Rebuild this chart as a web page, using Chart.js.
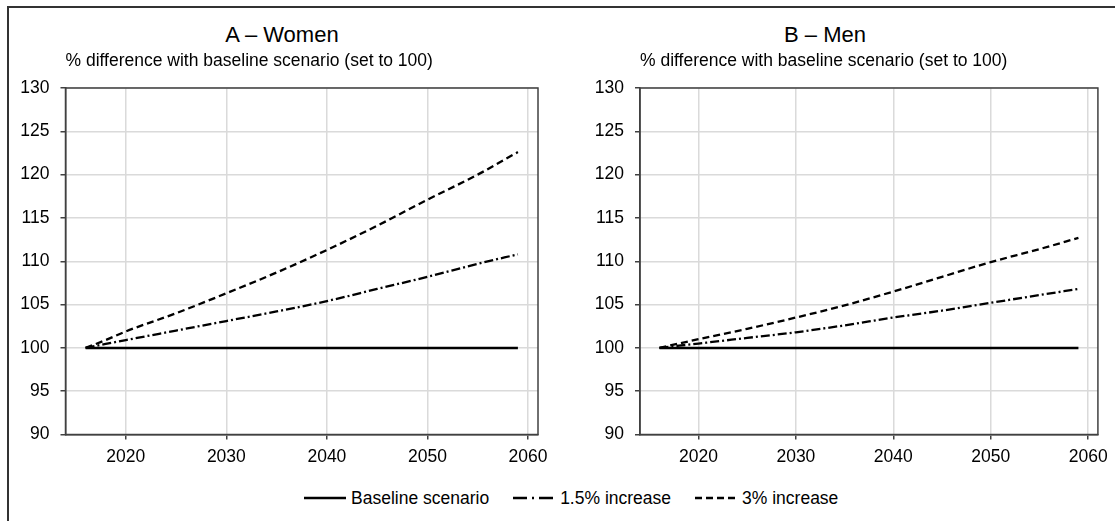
<!DOCTYPE html>
<html>
<head>
<meta charset="utf-8">
<script src="https://cdn.jsdelivr.net/npm/chart.js@4.4.1/dist/chart.umd.min.js"></script>
<style>
  html, body { margin: 0; padding: 0; background: #fff; }
  body {
    width: 1115px; height: 521px; position: relative; overflow: hidden; color: #000;
    font-family: 'Liberation Sans', Arial, sans-serif;
  }
  .frame { position: absolute; left: 7px; top: 6px; width: 1200px; height: 600px; border: 2px solid #333; }
  .panel-title {
    position: absolute; top: 24px; width: 300px; text-align: center;
    font: 22px/22px 'Liberation Sans', Arial, sans-serif;
  }
  canvas { position: absolute; top: 8px; }
  #legend {
    position: absolute; left: 304px; top: 486px; display: flex; align-items: center;
    font-size: 17.5px; line-height: 24px; white-space: nowrap;
  }
  .item { display: flex; align-items: center; margin-right: 24px; }
  .item svg { margin-right: 5px; }
</style>
</head>
<body>
<div class="frame"></div>
<div class="panel-title" style="left:132px">A – Women</div>
<div class="panel-title" style="left:675px">B – Men</div>
<canvas id="women" width="545" height="472" style="left:10px"></canvas>
<canvas id="men" width="555" height="472" style="left:560px"></canvas>
<div id="legend"></div>

<script>
// values
const years = [2016, 2018, 2020, 2025, 2030, 2035, 2040, 2045, 2050, 2055, 2059];
const xTicks = [2020, 2030, 2040, 2050, 2060];

const seriesNames = ['Baseline scenario', '1.5% increase', '3% increase'];

const womenBaseline = [100, 100, 100, 100, 100, 100, 100, 100, 100, 100, 100];
const women15 = [100, 100.45, 100.9, 102.0, 103.1, 104.2, 105.4, 106.8, 108.2, 109.7, 110.8];
const women3 = [100, 100.9, 101.9, 104.0, 106.3, 108.7, 111.3, 114.1, 117.1, 120.0, 122.6];

const menBaseline = [100, 100, 100, 100, 100, 100, 100, 100, 100, 100, 100];
const men15 = [100, 100.25, 100.5, 101.15, 101.8, 102.6, 103.5, 104.3, 105.2, 106.1, 106.8];
const men3 = [100, 100.5, 101.0, 102.2, 103.5, 104.9, 106.5, 108.2, 109.9, 111.4, 112.7];

const subtitleText = '% difference with baseline scenario (set to 100)';

// line looks, same order as seriesNames
const lineStyles = [
    { width: 2.5, dash: [], legendDash: [] },
    { width: 2.3, dash: [9, 3, 2, 3], legendDash: [14, 5, 2, 5, 14] },
    { width: 2.3, dash: [7, 4], legendDash: [7, 4] }
];

const FONT = "'Liberation Sans', Arial, sans-serif";
const AXIS_COLOR = '#404040';
const GRID_COLOR = '#dadada';

Chart.defaults.font.family = FONT;
Chart.defaults.color = '#000';

// dark box round the plot area
const plotFrame = {
    id: 'plotFrame',
    beforeDatasetsDraw(chart) {
        const { ctx, chartArea: a } = chart;
        ctx.save();
        ctx.strokeStyle = AXIS_COLOR;
        ctx.lineWidth = 1.5;
        ctx.strokeRect(a.left, a.top, a.right - a.left, a.bottom - a.top);
        ctx.restore();
    }
};

function makeChart(id, series, yWidth, rightPad) {
    const datasets = series.map((values, i) => ({
        label: seriesNames[i],
        data: years.map((y, k) => ({ x: y, y: values[k] })),
        borderColor: '#000',
        borderWidth: lineStyles[i].width,
        borderDash: lineStyles[i].dash,
        pointRadius: 0,
        cubicInterpolationMode: 'monotone',
        fill: false
    }));

    return new Chart(document.getElementById(id), {
        type: 'line',
        data: { datasets: datasets.reverse() },
        options: {
            responsive: false,
            animation: false,
            layout: { padding: { left: 0, right: rightPad, top: 0, bottom: 0 } },
            plugins: {
                legend: { display: false },
                tooltip: { enabled: false },
                title: { display: false },
                subtitle: {
                    display: true,
                    text: subtitleText,
                    fullSize: false,
                    align: 'start',
                    color: '#000',
                    font: { size: 17.5, weight: 'normal' },
                    padding: { top: 43, bottom: 16 }
                }
            },
            scales: {
                x: {
                    type: 'linear',
                    min: 2014,
                    max: 2061,
                    afterBuildTicks: (scale) => { scale.ticks = xTicks.map(v => ({ value: v })); },
                    afterFit: (scale) => { scale.height = 45.5; },
                    grid: { color: GRID_COLOR, lineWidth: 1.5, tickColor: AXIS_COLOR, tickLength: 5 },
                    border: { color: AXIS_COLOR, width: 1.5 },
                    ticks: { font: { size: 17.5 }, padding: 7, maxRotation: 0, callback: v => String(v) }
                },
                y: {
                    min: 90,
                    max: 130,
                    afterFit: (scale) => { scale.width = yWidth; },
                    grid: { color: GRID_COLOR, lineWidth: 1.5, tickColor: AXIS_COLOR, tickLength: 5 },
                    border: { color: AXIS_COLOR, width: 1.5 },
                    ticks: { stepSize: 5, font: { size: 17.5 }, padding: 11 }
                }
            }
        },
        plugins: [plotFrame]
    });
}

makeChart('women', [womenBaseline, women15, women3], 55.5, 17);
makeChart('men', [menBaseline, men15, men3], 80, 14);

// shared legend under both panels
const legendEl = document.getElementById('legend');
seriesNames.forEach((name, i) => {
    const st = lineStyles[i];
    const item = document.createElement('div');
    item.className = 'item';
    item.innerHTML =
        '<svg width="42" height="6"><line x1="0" y1="3" x2="42" y2="3" stroke="#000" stroke-width="' +
        st.width + '" stroke-dasharray="' + st.legendDash.join(' ') + '"/></svg><span>' + name + '</span>';
    legendEl.appendChild(item);
});
</script>
</body>
</html>
